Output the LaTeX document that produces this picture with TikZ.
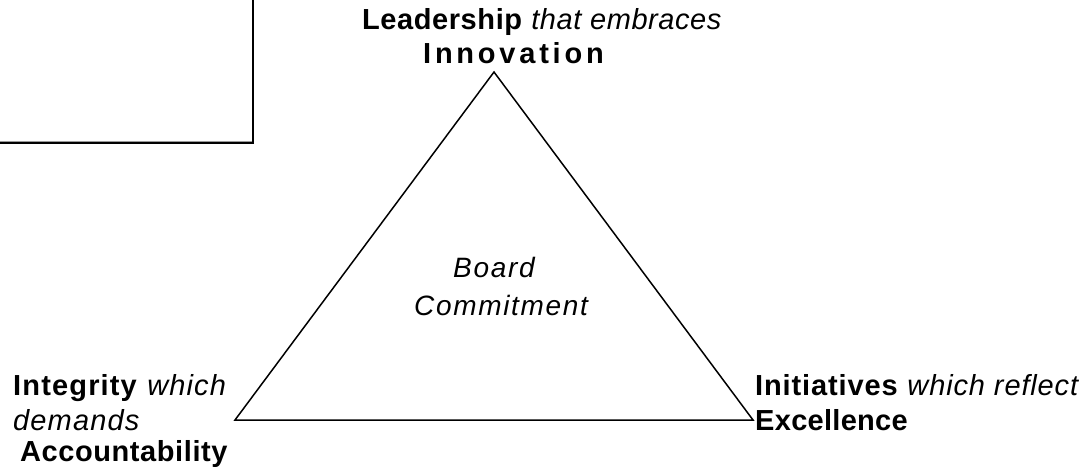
\documentclass[tikz,border=0pt]{standalone}
\usepackage{fontspec}
\setmainfont{Liberation Sans}
\newfontfamily\lsInno[LetterSpace=13]{Liberation Sans}
\newfontfamily\lsCtr[LetterSpace=6]{Liberation Sans}
\newfontfamily\lsFour[LetterSpace=4]{Liberation Sans}
\newfontfamily\lsThree[LetterSpace=3]{Liberation Sans}
\newfontfamily\lsTwo[LetterSpace=2]{Liberation Sans}
\newfontfamily\lsOne[LetterSpace=1]{Liberation Sans}
\begin{document}
\begin{tikzpicture}[x=1pt,y=-1pt,
  lbl/.style={anchor=base west,inner sep=0pt,font=\fontsize{29}{34}\selectfont},
  ctr/.style={anchor=base west,inner sep=0pt,font=\fontsize{28}{32}\selectfont\lsCtr\itshape},
  edge/.style={line width=1.5pt,line join=miter},
  frame/.style={line width=2.5pt},
  shade/.style={line width=1pt,draw=black!40}]
\useasboundingbox (0,0) rectangle (1089,471);
% partial box at top-left
\coordinate (bxr) at (253,-5);
\coordinate (bxc) at (253,143);
\coordinate (bxl) at (-5,143);
\coordinate (shl) at (-5,141.3);
\coordinate (shr) at (252,141.3);
\draw[shade] (shl) -- (shr);
\draw[frame] (bxr) -- (bxc) -- (bxl);
% triangle
\coordinate (apex) at (494,72);
\coordinate (bl) at (235,420);
\coordinate (br) at (753,420);
\draw[edge] (apex) -- (br) -- (bl) -- cycle;
% labels
\node[lbl] (lead) at (362,29) {\lsTwo\textbf{Leadership} \textit{that embraces}};
\node[lbl] (inno) at (423,63) {\lsInno\textbf{Innovation}};
\node[lbl] (integ) at (13,395) {\lsFour\textbf{Integrity} \textit{which}};
\node[lbl] (dem) at (13,430) {\lsFour\textit{demands}};
\node[lbl] (acc) at (20,461) {\lsTwo\textbf{Accountability}};
\node[lbl] (init) at (755,395) {\lsThree\textbf{Initiatives} \textit{which reflect}};
\node[lbl] (exc) at (755,430) {\lsOne\textbf{Excellence}};
\node[ctr] (board) at (453,277) {Board};
\node[ctr] (comm) at (414,315) {Commitment};
\end{tikzpicture}
\end{document}
